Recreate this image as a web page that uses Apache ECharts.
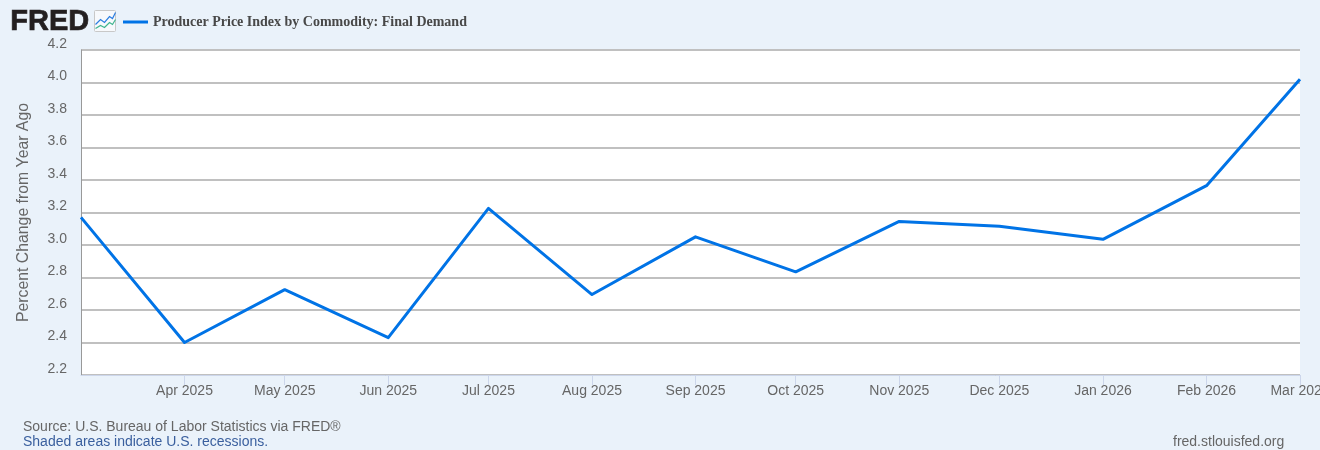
<!DOCTYPE html>
<html><head><meta charset="utf-8">
<style>html,body{margin:0;padding:0;background:#eaf2fa;overflow:hidden}#c{width:1320px;height:450px}</style>
<script src="https://cdn.jsdelivr.net/npm/echarts@6/dist/echarts.min.js"></script>
</head><body><div id="c"></div>
<script>
const seriesName = "Producer Price Index by Commodity: Final Demand";
const dates = ["2025-03-01","2025-04-01","2025-05-01","2025-06-01","2025-07-01","2025-08-01","2025-09-01","2025-10-01","2025-11-01","2025-12-01","2026-01-01","2026-02-01","2026-03-01"];
const values = [3.17,2.40,2.725,2.43,3.225,2.695,3.05,2.835,3.145,3.115,3.035,3.365,4.02];
const tickDates = dates.slice(1);
const tickLabels = ["Apr 2025","May 2025","Jun 2025","Jul 2025","Aug 2025","Sep 2025","Oct 2025","Nov 2025","Dec 2025","Jan 2026","Feb 2026","Mar 2026"];
const yTicks = ["2.2","2.4","2.6","2.8","3.0","3.2","3.4","3.6","3.8","4.0","4.2"];
const yName = "Percent Change from Year Ago";
const sourceText = "Source: U.S. Bureau of Labor Statistics via FRED®";
const shadedText = "Shaded areas indicate U.S. recessions.";
const siteText = "fred.stlouisfed.org";

const sans = '"Liberation Sans", Arial, sans-serif';
const t = s => Date.parse(s + "T00:00:00Z");
const tickTimes = tickDates.map(t);
const chart = echarts.init(document.getElementById('c'));
chart.setOption({
  animation: false,
  backgroundColor: '#eaf2fa',
  grid: {left: 81, right: 20, top: 50, bottom: 75, backgroundColor: '#fff', show: true, borderWidth: 0, outerBoundsMode: 'none'},
  legend: {
    left: 118, top: 10, itemWidth: 25, itemHeight: 3, itemGap: 5,
    icon: 'rect',
    data: [seriesName],
    textStyle: {fontFamily: '"Liberation Serif", serif', fontWeight: 'bold', fontSize: 14, color: '#484848'}
  },
  xAxis: {
    type: 'value',
    min: t(dates[0]), max: t(dates[dates.length-1]),
    axisLine: {show: true, onZero: false, lineStyle: {color: '#ccd6eb', width: 1}},
    axisTick: {show: true, length: 10, lineStyle: {color: '#ccd6eb'}, customValues: tickTimes},
    axisLabel: {
      show: true, color: '#666', fontFamily: sans, fontSize: 14, margin: 9, hideOverlap: false,
      showMinLabel: true, showMaxLabel: true,
      customValues: tickTimes,
      formatter: v => tickLabels[tickTimes.indexOf(v)] || ''
    },
    splitLine: {show: false}, minorTick: {show: false}
  },
  yAxis: {
    type: 'value', min: +yTicks[0], max: +yTicks[yTicks.length-1], interval: 0.2,
    name: yName, nameLocation: 'middle', nameGap: 49, nameRotate: 90,
    nameTextStyle: {color: '#666', fontFamily: sans, fontSize: 15.8},
    axisLine: {show: true, lineStyle: {color: '#999', width: 1}},
    axisTick: {show: false},
    axisLabel: {color: '#666', fontFamily: sans, fontSize: 14, margin: 14, verticalAlign: 'bottom', lineHeight: 12, formatter: v => v.toFixed(1)},
    splitLine: {show: true, lineStyle: {color: '#c0c0c0', width: 2}}
  },
  series: [{
    name: seriesName, type: 'line', showSymbol: false, symbol: 'none',
    data: dates.map((d,i) => [t(d), values[i]]),
    lineStyle: {color: '#0073e6', width: 3, join: 'round'},
    itemStyle: {color: '#0073e6'}, z: 5
  }],
  graphic: [
    {type:'text', left: 10, top: 7, style:{text:'FRED', fontFamily: sans, fontWeight:'bold', fontSize: 29, fill:'#231f20', stroke:'#231f20', lineWidth: 0.7, letterSpacing: -0.5}},
    {type:'group', left: 93, top: 10, children:[
      {type:'rect', shape:{x:0,y:0,width:21,height:21,r:1}, style:{fill:'#f7f9fc', stroke:'#c8c8c8', lineWidth:1}},
      {type:'polyline', shape:{points:[[1,14],[6,9],[10,12],[15,6],[18,8],[21,2]]}, style:{stroke:'#2a7de1', fill:null, lineWidth:1.2}},
      {type:'polyline', shape:{points:[[1,18],[6,15],[10,17],[15,12],[18,14],[21,9]]}, style:{stroke:'#3fb58f', fill:null, lineWidth:1.2}}
    ]},
    {type:'text', left: 23, top: 420, style:{text:sourceText, fontFamily: sans, fontSize: 14, fill:'#666'}},
    {type:'text', left: 23, top: 435, style:{text:shadedText, fontFamily: sans, fontSize: 14, fill:'#3a5f9e'}},
    {type:'text', left: 1173, top: 435, style:{text:siteText, fontFamily: sans, fontSize: 14, fill:'#666'}}
  ]
});
</script></body></html>
